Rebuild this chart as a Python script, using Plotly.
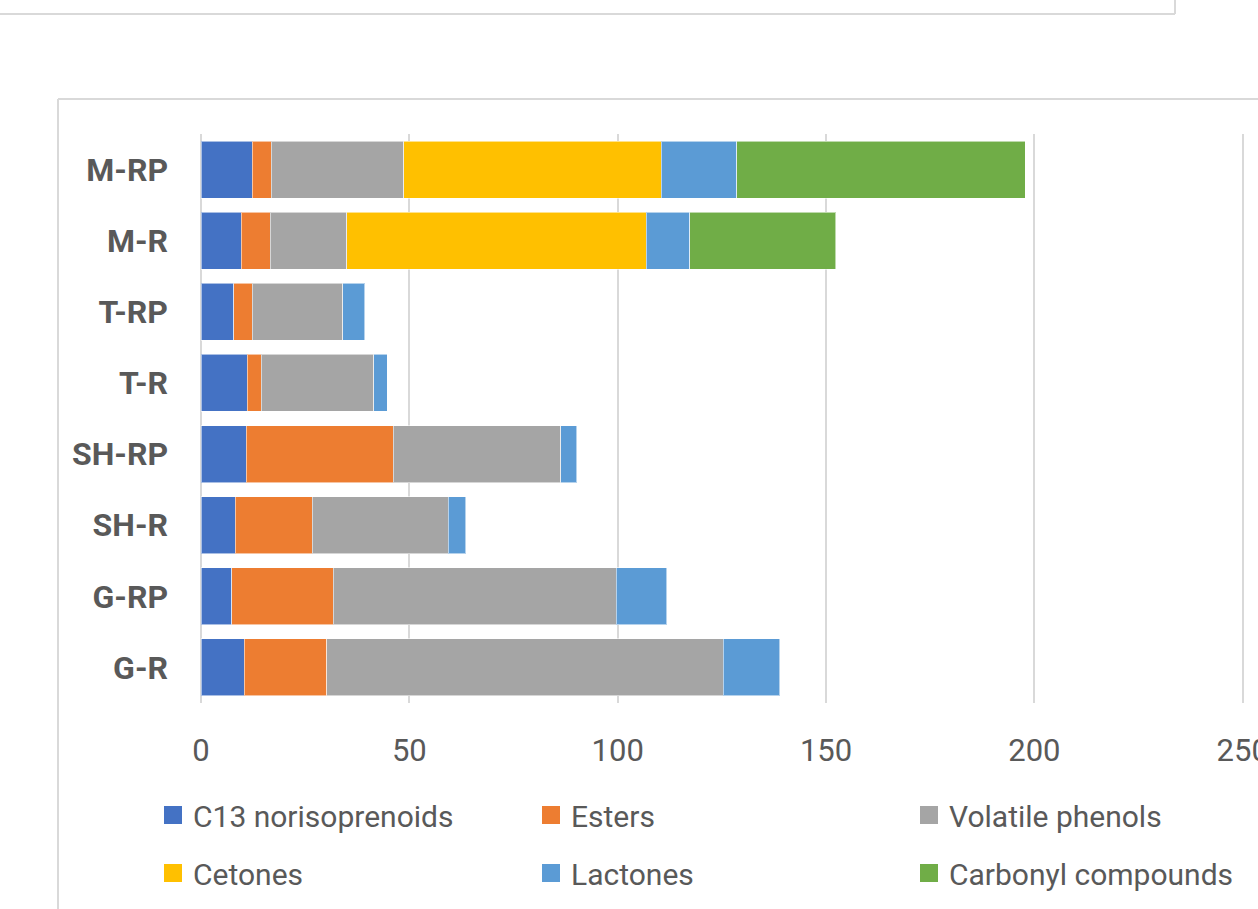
import plotly.graph_objects as go

# Samples, listed top to bottom
samples = ["M-RP", "M-R", "T-RP", "T-R", "SH-RP", "SH-R", "G-RP", "G-R"]

# Aroma family amounts per sample
c13_norisoprenoids = [12.3, 9.7, 7.9, 11.1, 10.8, 8.2, 7.4, 10.4]
esters = [4.6, 6.9, 4.4, 3.3, 35.3, 18.5, 24.3, 19.8]
volatile_phenols = [31.8, 18.4, 21.7, 27.1, 40.2, 32.6, 67.9, 95.1]
cetones = [61.8, 71.9, None, None, None, None, None, None]
lactones = [18.1, 10.4, 5.3, 3.2, 3.9, 4.2, 12.2, 13.6]
carbonyl_compounds = [69.2, 35.0, None, None, None, None, None, None]

series_names = ["C13 norisoprenoids", "Esters", "Volatile phenols",
                "Cetones", "Lactones", "Carbonyl compounds"]
series_values = [c13_norisoprenoids, esters, volatile_phenols,
                 cetones, lactones, carbonyl_compounds]
series_colors = ["#4472C4", "#ED7D31", "#A5A5A5", "#FFC000", "#5B9BD5", "#70AD47"]

x_ticks = [0, 50, 100, 150, 200, 250]

W, H = 1258, 909
ML, MR, MT, MB = 201, 14, 134, 206
PW, PH = W - ML - MR, H - MT - MB

TEXT = "#595959"
GRID = "#D9D9D9"
FONT = "Roboto, 'Open Sans', sans-serif"


def px_x(p):
    return (p - ML) / PW


def px_y(p):
    return (H - MB - p) / PH


fig = go.Figure()

for name, vals, col in zip(series_names, series_values, series_colors):
    fig.add_trace(go.Bar(
        y=samples, x=vals, name=name, orientation="h",
        marker=dict(color=col, line=dict(color="rgba(255,255,255,0.55)", width=1)),
        showlegend=False,
    ))

# Legend entries: two rows of three
for i, (name, col) in enumerate(zip(series_names, series_colors)):
    fig.add_trace(go.Scatter(
        x=[None], y=[None], mode="markers", name=name,
        marker=dict(symbol="square", size=16, color=col, line=dict(color=col, width=2)),
        legend="legend" if i < 3 else "legend2",
        hoverinfo="skip",
    ))

legend_common = dict(
    orientation="h", xanchor="left", yanchor="middle",
    traceorder="normal",
    entrywidth=333, entrywidthmode="pixels",
    font=dict(family=FONT, size=30, color=TEXT),
    bgcolor="rgba(0,0,0,0)", borderwidth=0,
    x=px_x(153),
)

frame = dict(type="line", xref="paper", yref="paper",
             line=dict(color=GRID, width=2), layer="below")

fig.update_layout(
    width=W, height=H,
    margin=dict(l=ML, r=MR, t=MT, b=MB, autoexpand=False),
    paper_bgcolor="white", plot_bgcolor="white",
    template="none",
    barmode="stack", bargap=0.2,
    font=dict(family=FONT, color=TEXT),
    legend=dict(legend_common, y=px_y(815)),
    legend2=dict(legend_common, y=px_y(873)),
    xaxis=dict(
        range=[0, 250.3], tickvals=x_ticks, ticktext=[str(v) for v in x_ticks],
        showgrid=True, gridcolor=GRID, gridwidth=2,
        zeroline=True, zerolinecolor=GRID, zerolinewidth=2,
        showline=False, ticks="", automargin=False,
        ticklabeloverflow="allow", ticklabelstandoff=26,
        tickfont=dict(family=FONT, size=31, color=TEXT),
    ),
    yaxis=dict(
        type="category", autorange="reversed",
        showgrid=False, zeroline=False, showline=False, ticks="",
        automargin=False, ticklabelstandoff=32,
        tickfont=dict(family=FONT, size=32, color=TEXT, weight="bold"),
    ),
    shapes=[
        dict(frame, x0=px_x(58), x1=px_x(1270), y0=px_y(99), y1=px_y(99)),
        dict(frame, x0=px_x(58), x1=px_x(58), y0=px_y(99), y1=px_y(920)),
        dict(frame, x0=px_x(-10), x1=px_x(1175), y0=px_y(14), y1=px_y(14)),
        dict(frame, x0=px_x(1175), x1=px_x(1175), y0=px_y(-10), y1=px_y(14)),
    ],
)

fig.write_html("out.html")
